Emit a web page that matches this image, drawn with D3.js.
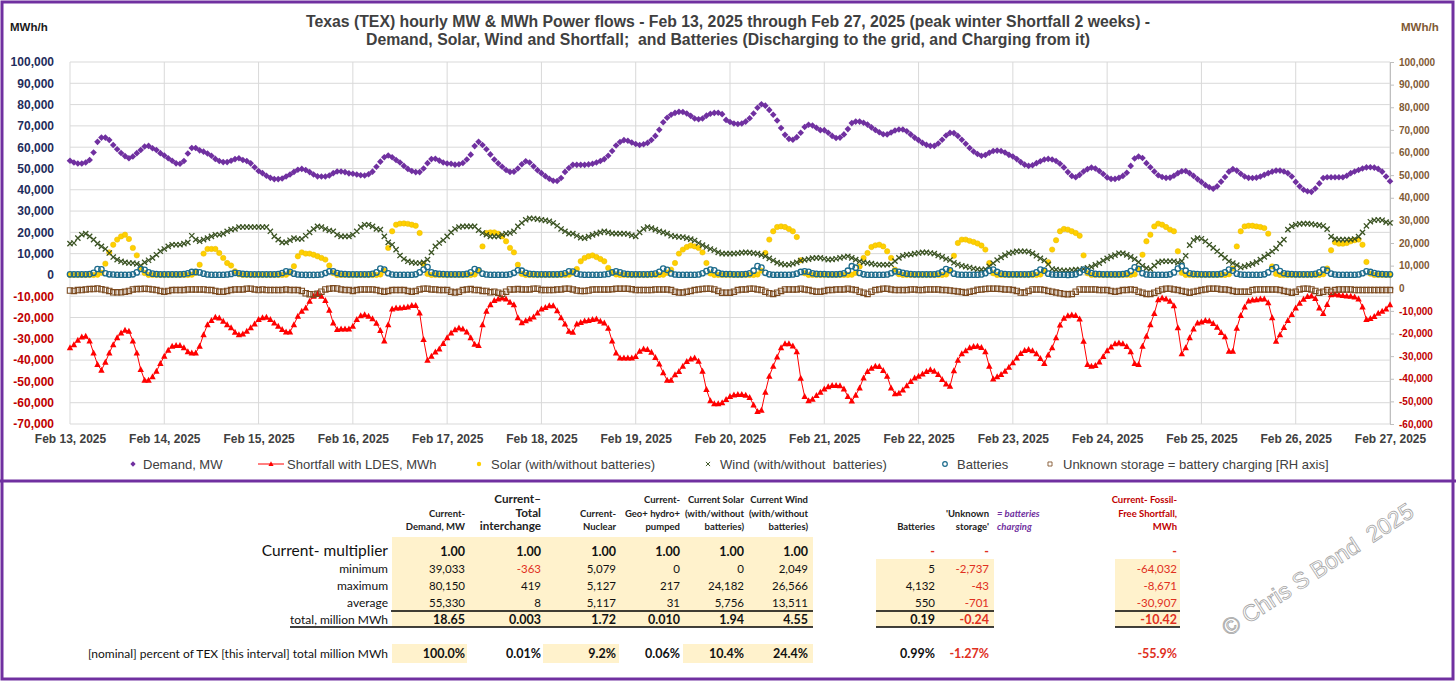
<!DOCTYPE html>
<html><head><meta charset="utf-8">
<script src="https://cdn.jsdelivr.net/npm/d3@7"></script>
<style>body{margin:0;background:#fff}svg{display:block}text{white-space:pre}</style>
</head><body>
<svg id="c" width="1456" height="683"></svg>
<script>
// ---------------- DATA ----------------
const dayLabels = ["Feb 13, 2025","Feb 14, 2025","Feb 15, 2025","Feb 16, 2025","Feb 17, 2025","Feb 18, 2025","Feb 19, 2025","Feb 20, 2025","Feb 21, 2025","Feb 22, 2025","Feb 23, 2025","Feb 24, 2025","Feb 25, 2025","Feb 26, 2025","Feb 27, 2025"];
const leftTicks = [100000,90000,80000,70000,60000,50000,40000,30000,20000,10000,0,-10000,-20000,-30000,-40000,-50000,-60000,-70000];
const rightTicks = [100000,90000,80000,70000,60000,50000,40000,30000,20000,10000,0,-10000,-20000,-30000,-40000,-50000,-60000];
// hourly values in thousand MW (GW), Feb 13 00:00 .. Feb 27 00:00
const demandGW = [
53.6,52.8,52.3,52.3,52.8,54.0,57.5,62.5,64.5,64.5,63.4,61.0,59.0,57.3,55.8,54.8,55.6,57.2,58.7,60.3,60.6,59.5,58.7,57.2,
56.1,54.8,53.6,52.4,52.2,53.5,57.0,59.6,59.6,58.5,57.9,57.0,56.0,54.5,53.5,53.0,53.0,53.6,54.4,54.8,54.0,53.5,52.4,50.6,
48.8,47.8,46.6,45.6,45.0,45.0,45.3,46.2,47.2,48.4,49.4,49.8,49.3,48.3,47.2,46.3,46.2,46.2,46.7,47.8,48.6,48.6,48.3,47.7,
47.5,47.2,46.8,46.7,47.3,48.5,50.8,53.2,55.3,56.1,55.3,54.0,52.8,51.2,49.8,48.8,48.3,48.3,50.0,52.5,54.4,54.6,53.7,52.8,
52.3,52.2,51.8,52.0,52.6,54.2,56.5,60.5,62.5,61.0,59.0,56.6,54.2,52.4,50.8,49.3,48.4,48.5,50.0,52.0,53.4,52.8,51.0,49.2,
47.8,46.4,45.2,44.2,44.1,45.5,48.4,50.2,51.7,51.7,51.7,51.7,51.9,52.2,52.8,53.5,54.4,56.0,58.2,60.8,62.4,63.3,63.0,62.2,
61.5,61.0,61.4,62.0,63.4,65.3,68.2,71.7,73.8,75.2,76.1,76.6,76.5,75.8,74.7,73.5,73.1,73.5,74.8,75.7,76.1,76.2,75.5,72.8,
71.8,71.1,70.9,71.1,72.0,73.6,75.8,78.5,80.15,79.5,77.5,75.2,72.5,69.0,65.8,63.9,63.5,64.7,66.8,69.5,70.5,70.2,69.1,68.0,
68.0,66.8,65.3,64.3,64.5,66.0,68.5,71.3,72.0,72.0,71.5,70.6,69.3,68.1,67.0,66.1,66.0,66.9,67.8,68.3,68.3,67.5,66.0,64.5,
63.3,62.0,61.1,60.6,60.6,61.7,63.5,65.5,66.7,66.6,65.3,63.5,61.6,59.6,58.0,56.8,56.0,56.3,57.4,58.2,58.4,58.2,57.5,56.4,
55.6,54.4,53.0,51.8,51.2,51.5,52.5,53.4,54.2,54.5,54.2,53.5,52.2,50.5,48.3,46.5,45.9,47.0,48.6,49.7,50.4,50.0,48.8,47.4,
45.8,45.1,45.1,45.6,46.5,48.0,51.2,54.7,55.6,54.9,52.5,50.6,48.6,46.8,46.0,45.6,45.7,46.6,47.8,48.7,48.8,47.8,46.5,45.0,
43.7,42.2,41.2,40.5,41.6,43.8,46.0,48.5,49.7,49.0,47.5,46.2,45.6,45.5,45.7,46.2,47.0,47.8,48.5,49.0,49.0,48.6,47.8,46.2,
43.7,41.6,40.0,39.3,39.03,40.6,43.0,45.5,45.9,45.9,45.9,45.9,45.9,46.6,47.8,48.6,49.3,50.0,50.5,50.6,50.4,49.8,48.5,46.2,
44.0];
const shortfallGW = [
-34.2,-32.7,-30.6,-29.1,-28.8,-31.0,-36.6,-42.0,-44.7,-41.0,-36.6,-32.7,-29.5,-27.2,-25.9,-26.4,-31.0,-36.6,-44.4,-49.4,-49.4,-47.8,-45.2,-41.6,
-38.1,-35.3,-33.4,-33.1,-33.1,-34.2,-36.0,-36.6,-36.6,-33.4,-28.0,-23.3,-21.4,-19.8,-20.2,-21.7,-23.3,-24.8,-26.9,-28.0,-27.7,-26.4,-24.8,-23.0,
-20.9,-20.0,-19.8,-20.9,-22.5,-24.1,-25.6,-26.7,-26.7,-23.3,-19.4,-17.0,-15.5,-12.3,-10.0,-8.671,-10.0,-12.0,-16.5,-22.5,-25.6,-25.3,-25.3,-25.3,
-24.1,-20.9,-19.1,-18.6,-19.3,-20.5,-22.6,-26.0,-31.0,-23.3,-16.0,-15.5,-15.5,-15.3,-15.0,-14.3,-14.3,-17.8,-30.3,-40.0,-38.1,-36.1,-34.7,-32.2,
-29.5,-27.2,-25.7,-24.9,-25.3,-26.8,-29.5,-32.5,-33.1,-23.3,-17.0,-13.9,-12.0,-11.2,-10.8,-11.3,-12.8,-13.9,-20.0,-22.4,-21.5,-20.7,-19.7,-17.8,
-16.0,-15.3,-14.4,-14.4,-16.8,-20.0,-23.0,-26.4,-26.9,-23.0,-22.3,-21.6,-21.3,-20.9,-20.6,-21.7,-22.5,-25.0,-31.0,-36.6,-38.9,-38.9,-38.9,-38.9,
-38.3,-35.8,-34.7,-35.0,-36.3,-38.7,-41.8,-45.9,-49.4,-49.4,-46.8,-45.3,-42.8,-40.6,-39.4,-38.9,-40.5,-45.2,-53.8,-59.0,-60.4,-60.5,-60.0,-58.4,
-57.0,-56.3,-56.1,-56.1,-56.4,-57.5,-61.0,-64.032,-63.5,-55.0,-47.5,-42.8,-38.5,-34.2,-32.3,-32.3,-33.3,-36.0,-48.5,-57.0,-59.0,-58.3,-56.6,-55.0,
-53.5,-52.5,-51.9,-51.9,-52.0,-53.5,-57.0,-59.2,-56.5,-53.0,-48.3,-45.3,-43.8,-42.8,-43.0,-44.8,-47.5,-53.0,-55.8,-55.5,-54.0,-52.0,-50.0,-48.3,
-47.5,-46.5,-45.3,-44.5,-45.2,-46.7,-49.0,-51.2,-52.2,-45.0,-40.0,-37.0,-35.6,-34.2,-33.6,-33.4,-34.0,-36.0,-42.8,-48.8,-47.8,-46.7,-45.2,-43.3,
-41.2,-38.9,-36.9,-35.4,-35.0,-35.6,-37.0,-39.2,-41.6,-37.5,-34.2,-29.5,-23.5,-20.3,-19.1,-18.8,-19.0,-20.6,-31.1,-42.0,-42.8,-42.5,-40.8,-38.3,
-35.5,-33.8,-32.3,-31.9,-32.3,-33.5,-36.0,-41.6,-42.0,-33.4,-28.8,-23.3,-18.1,-11.6,-10.8,-11.3,-12.3,-14.4,-24.8,-37.0,-34.2,-29.5,-25.3,-22.5,
-22.0,-21.3,-21.6,-22.8,-24.5,-27.0,-29.0,-35.8,-35.8,-25.0,-19.0,-15.0,-12.2,-11.7,-11.6,-11.2,-11.3,-13.0,-20.0,-31.1,-28.0,-24.6,-21.3,-18.5,
-15.5,-13.2,-11.4,-10.1,-9.9,-11.0,-15.5,-18.1,-13.8,-9.2,-9.0,-9.4,-9.6,-9.9,-10.0,-10.3,-11.2,-15.0,-20.9,-20.4,-19.5,-18.0,-17.0,-16.0,
-14.0];
const solarGW = [
0,0,0,0,0,0,0,0.1,1.0,5.3,10.6,14.2,16.6,18.1,18.9,16.9,12.7,9.2,3.3,0.9,0,0,0,0,
0,0,0,0,0,0,0,0.1,1.0,4.8,10.0,12.2,12.2,12.2,10.3,8.0,5.6,4.4,1.7,0.3,0,0,0,0,
0,0,0,0,0,0,0,0.1,1.0,4.1,8.75,10.6,10.0,10.0,9.5,8.75,8.0,7.2,4.4,0.9,0,0,0,0,
0,0,0,0,0,0,0,0.2,2.0,12.7,20.5,23.6,24.1,24.182,24.0,23.6,23.1,19.7,5.0,0.5,0,0,0,0,
0,0,0,0,0,0,0,0.2,2.0,13.4,19.7,20.0,20.0,19.4,18.1,15.8,12.7,10.6,4.8,0.5,0,0,0,0,
0,0,0,0,0,0,0,0.1,1.0,2.8,6.4,8.0,8.75,9.2,8.4,7.5,6.4,3.3,1.2,0.2,0,0,0,0,
0,0,0,0,0,0,0,0.1,1.0,2.5,5.6,10.0,11.9,13.1,13.8,13.4,12.7,10.6,5.6,0.7,0,0,0,0,
0,0,0,0,0,0,0,0.2,2.0,10.3,16.6,20.5,22.5,22.8,22.5,21.6,20.5,17.8,6.9,0.8,0,0,0,0,
0,0,0,0,0,0,0,0.1,1.0,4.0,8.0,10.3,13.1,13.9,14.2,13.4,11.1,8.0,2.5,0.3,0,0,0,0,
0,0,0,0,0,0,0,0.2,2.0,9.0,15.0,16.6,16.6,16.0,15.5,14.8,13.8,11.9,5.6,0.8,0,0,0,0,
0,0,0,0,0,0,0,0.2,2.0,6.0,11.9,16.3,20.5,21.6,21.3,20.5,19.7,18.4,9.2,0.8,0,0,0,0,
0,0,0,0,0,0,0,0.3,3.0,9.5,15.8,18.9,22.8,24.1,23.6,22.5,21.3,20.5,11.1,1.0,0,0,0,0,
0,0,0,0,0,0,0,0.3,3.0,13.4,20.5,22.8,23.1,23.1,22.8,22.5,22.0,19.4,4.0,0.5,0,0,0,0,
0,0,0,0,0,0,0,0.3,3.0,11.6,15.3,14.7,14.7,15.0,15.8,16.3,16.6,14.2,6.1,0.6,0,0,0,0,
0];
const windGW = [
14.7,15.0,17.3,18.9,19.4,18.1,16.6,14.7,13.4,12.2,10.3,8.4,7.2,6.4,5.9,5.6,5.6,5.2,4.4,5.9,6.9,8.0,9.5,11.1,
12.2,13.4,14.2,14.2,14.2,14.7,15.3,18.4,16.6,15.8,16.6,17.3,18.1,18.9,18.9,19.4,20.5,21.3,21.6,22.5,22.5,22.5,22.5,22.5,
22.5,22.5,22.5,20.5,18.1,16.6,15.3,15.3,16.3,17.3,16.9,16.9,18.4,20.0,21.6,22.8,22.5,21.6,20.9,20.5,18.9,18.1,18.1,18.1,
18.9,20.5,22.5,23.6,23.6,22.8,21.6,21.3,18.1,15.3,14.2,11.9,9.1,7.5,6.4,5.9,5.6,5.6,5.9,7.2,10.6,13.4,15.0,16.3,
18.1,20.0,21.6,22.5,22.8,22.8,22.8,22.8,21.0,19.7,18.9,18.1,18.1,18.1,18.9,19.4,19.7,20.5,22.8,24.4,25.9,26.566,26.5,26.2,
25.9,25.6,25.2,24.4,23.1,21.6,20.5,19.4,19.4,18.4,17.5,17.3,18.0,18.8,19.4,20.0,20.5,20.0,19.5,19.4,19.4,19.4,19.2,18.6,
18.1,20.0,21.6,22.5,22.0,21.3,20.5,20.0,19.4,18.4,18.1,17.8,17.8,17.3,16.8,16.2,15.0,14.0,13.1,12.2,11.6,10.6,10.0,10.0,
10.0,10.0,10.2,10.5,10.6,10.5,10.2,10.0,9.4,8.8,7.8,6.8,5.8,5.2,4.8,4.8,5.3,5.9,6.7,7.1,7.4,7.9,8.0,8.0,
7.6,7.2,7.3,7.6,8.0,8.4,8.75,8.0,7.2,6.4,5.9,5.6,5.3,4.9,4.8,4.8,4.8,5.0,6.5,8.0,9.0,9.5,9.6,10.0,
10.3,10.6,10.6,10.3,10.0,9.1,8.5,7.5,7.0,5.7,4.9,4.3,3.9,3.5,3.0,2.7,2.5,2.7,4.0,5.5,7.0,8.2,9.3,10.2,
10.6,11.1,11.1,11.1,10.9,10.1,9.0,7.8,6.8,5.0,2.8,2.5,2.2,2.049,2.1,2.3,2.5,2.5,2.8,3.3,3.8,4.7,5.5,6.7,
7.8,8.6,9.3,10.2,10.1,9.4,8.5,7.4,6.0,4.3,3.2,2.8,4.4,5.9,6.4,6.4,6.4,6.4,5.8,6.5,9.0,14.0,16.4,17.3,
17.0,15.8,14.2,12.7,11.1,9.5,8.0,6.4,5.6,4.6,3.5,4.0,4.6,5.2,6.0,7.2,8.5,9.7,11.0,12.5,14.7,16.6,21.3,22.8,
23.6,24.0,24.1,24.1,23.9,23.6,23.4,23.0,21.5,18.0,16.8,16.6,16.6,16.6,16.6,16.9,18.0,20.0,23.0,25.0,25.7,25.9,25.7,24.8,
24.4];
const batteriesGW = [
0.3,0.3,0.3,0.3,0.3,0.4,1.0,2.8,2.6,0.8,0.3,0.2,0.1,0.1,0.1,0.1,0.3,1.2,2.8,2.4,1.2,0.6,0.4,0.3,
0.3,0.3,0.3,0.3,0.3,0.4,0.8,1.4,1.4,1.2,0.6,0.2,0.1,0.1,0.1,0.1,0.2,0.5,1.0,0.8,0.5,0.4,0.3,0.3,
0.3,0.3,0.3,0.3,0.3,0.4,0.9,1.7,1.5,0.6,0.2,0.1,0.05,0.05,0.05,0.1,0.2,0.9,1.7,1.7,0.9,0.5,0.4,0.3,
0.3,0.3,0.3,0.3,0.3,0.5,1.2,3.0,2.5,0.8,0.2,0.1,0.1,0.1,0.1,0.1,0.3,1.2,2.5,3.7,1.2,0.7,0.5,0.4,
0.3,0.3,0.3,0.3,0.3,0.5,1.2,2.8,2.2,0.6,0.2,0.1,0.1,0.1,0.1,0.1,0.3,1.0,2.2,2.0,1.0,0.5,0.4,0.3,
0.3,0.3,0.3,0.3,0.3,0.4,0.8,1.7,1.6,0.6,0.2,0.1,0.1,0.1,0.1,0.1,0.2,0.5,1.2,1.7,1.2,0.6,0.4,0.3,
0.3,0.3,0.3,0.3,0.4,0.6,1.5,3.0,2.4,0.7,0.2,0.1,0.1,0.1,0.1,0.1,0.2,0.8,1.8,2.5,2.2,1.0,0.5,0.4,
0.4,0.3,0.3,0.3,0.4,0.8,2.0,4.132,3.5,1.0,0.3,0.1,0.1,0.1,0.1,0.1,0.2,0.6,1.4,1.7,1.5,0.8,0.5,0.4,
0.4,0.3,0.3,0.3,0.4,0.8,2.0,4.1,3.4,0.9,0.3,0.1,0.1,0.1,0.1,0.1,0.2,0.8,1.7,1.5,1.0,0.6,0.4,0.3,
0.3,0.3,0.3,0.3,0.3,0.6,1.4,2.8,2.2,0.6,0.2,0.1,0.1,0.1,0.1,0.1,0.2,0.8,2.0,2.5,1.4,0.6,0.4,0.3,
0.3,0.3,0.3,0.3,0.3,0.5,1.2,2.5,2.0,0.6,0.2,0.1,0.1,0.1,0.005,0.1,0.3,1.2,2.5,1.8,0.9,0.5,0.4,0.3,
0.3,0.3,0.3,0.3,0.4,0.7,1.8,3.6,2.8,0.8,0.2,0.1,0.1,0.1,0.1,0.1,0.3,1.2,3.0,4.1,2.0,0.8,0.5,0.4,
0.3,0.3,0.3,0.3,0.3,0.5,1.2,2.5,2.0,0.6,0.2,0.1,0.1,0.1,0.1,0.1,0.3,1.2,2.8,3.6,1.8,0.8,0.5,0.4,
0.3,0.3,0.3,0.3,0.3,0.5,1.2,2.5,2.0,0.6,0.2,0.1,0.1,0.1,0.1,0.1,0.2,0.8,1.7,1.4,0.9,0.5,0.4,0.3,
0.3];
const unknownStorageGW = [ // plotted on the right-hand axis
-1.0,-1.2,-0.8,-0.8,-0.5,-0.35,-0.35,-0.1,-0.45,-0.77,-1.2,-1.8,-1.8,-1.8,-1.5,-1.2,-0.5,-0.35,-0.35,-0.2,-0.35,-0.5,-0.8,-1.2,
-1.5,-1.2,-0.8,-0.8,-0.8,-0.8,-0.5,-0.5,-0.5,-0.5,-0.5,-0.8,-0.8,-1.2,-1.5,-1.5,-1.2,-0.8,-0.5,-0.5,-0.5,-0.2,-0.2,-0.5,
-0.8,-0.5,-0.8,-0.8,-0.8,-0.8,-0.8,-0.5,-0.8,-0.8,-0.8,-1.2,-2.2,-2.6,-2.737,-2.4,-1.5,-0.5,-0.2,-0.043,-0.1,-0.5,-0.8,-0.8,
-1.2,-0.8,-0.5,-0.5,-0.5,-0.5,-0.8,-1.2,-1.5,-1.2,-0.8,-0.8,-0.8,-0.8,-1.2,-1.5,-1.2,-0.5,-0.2,-0.2,-0.5,-0.5,-0.8,-0.8,
-0.8,-1.5,-1.9,-1.5,-0.8,-0.5,-0.35,-0.8,-0.8,-1.2,-1.2,-1.8,-1.5,-1.95,-2.5,-1.5,-0.5,-0.5,-0.35,-0.5,-0.5,-0.5,-0.2,-0.2,
-0.8,-0.8,-0.8,-0.8,-0.5,-0.5,-0.2,-0.2,-0.5,-1.0,-1.2,-1.2,-1.0,-0.6,-0.5,-0.5,-0.5,-0.5,-0.4,-0.2,-0.2,-0.2,-0.2,-0.4,
-0.8,-0.8,-0.8,-0.8,-0.8,-0.5,-0.5,-0.5,-0.5,-0.8,-1.5,-1.9,-1.9,-1.5,-1.2,-0.8,-0.5,-0.3,-0.2,-0.2,-0.5,-1.2,-1.95,-1.95,
-1.95,-1.5,-0.8,-0.5,-0.5,-0.2,-0.2,-0.5,-0.8,-1.5,-2.2,-2.5,-1.95,-1.2,-0.5,-0.5,-0.5,-0.5,-0.2,-0.5,-0.8,-1.2,-1.5,-1.5,
-1.2,-0.8,-0.8,-0.5,-0.5,-0.5,-0.2,-0.5,-0.8,-1.5,-1.95,-2.5,-1.5,-0.8,-0.5,-0.2,-0.2,-0.5,-0.8,-0.8,-0.8,-0.8,-0.5,-0.5,
-0.8,-0.8,-0.5,-0.5,-0.5,-0.5,-0.8,-0.8,-1.0,-1.2,-1.4,-1.7,-1.95,-1.5,-1.2,-0.7,-0.5,-0.3,-0.2,-0.2,-0.2,-0.3,-0.5,-0.5,
-0.8,-1.2,-1.9,-1.9,-1.2,-0.5,-0.5,-0.5,-0.8,-1.2,-1.5,-1.9,-2.2,-2.5,-2.7,-2.5,-1.5,-0.5,-0.5,-0.5,-0.5,-0.5,-0.8,-0.8,
-0.8,-1.2,-1.5,-1.2,-0.8,-0.8,-0.5,-0.8,-1.5,-1.95,-2.5,-2.5,-1.95,-1.2,-0.5,-0.2,-0.2,-0.5,-0.8,-1.2,-1.5,-1.95,-1.5,-1.2,
-0.8,-0.5,-0.2,-0.2,-0.2,-0.5,-0.5,-0.8,-1.2,-1.5,-1.5,-1.5,-1.5,-0.8,-0.5,-0.5,-0.5,-0.5,-0.5,-0.5,-0.8,-1.2,-1.5,-1.95,
-1.5,-0.5,-0.2,-0.2,-0.5,-1.2,-1.95,-1.5,-0.8,-1.5,-0.8,-0.5,-0.5,-0.5,-0.5,-0.8,-0.8,-0.8,-0.8,-0.8,-0.8,-0.8,-0.8,-0.8,
-0.8];
const legendLabels = ["Demand, MW","Shortfall with LDES, MWh","Solar (with/without batteries)","Wind (with/without  batteries)","Batteries","Unknown storage = battery charging [RH axis]"];
// table
const tableHeaders = [["","Current-","Demand, MW"],["Current–","Total","interchange"],["","Current-","Nuclear"],["Current-","Geo+ hydro+","pumped"],["Current Solar","(with/without","batteries)"],["Current Wind","(with/without","batteries)"],["","","Batteries"],["","'Unknown","storage'"],["Current- Fossil-","Free Shortfall,","MWh"]];
const rowLabels = ["Current- multiplier","minimum","maximum","average","total, million MWh"];
const multiplierRow = ["1.00","1.00","1.00","1.00","1.00","1.00","-","-","-"];
const minRow = ["39,033","-363","5,079","0","0","2,049","5","-2,737","-64,032"];
const maxRow = ["80,150","419","5,127","217","24,182","26,566","4,132","-43","-8,671"];
const avgRow = ["55,330","8","5,117","31","5,756","13,511","550","-701","-30,907"];
const totalRow = ["18.65","0.003","1.72","0.010","1.94","4.55","0.19","-0.24","-10.42"];
const pctLabel = "[nominal] percent of TEX [this interval] total million MWh";
const pctRow = ["100.0%","0.01%","9.2%","0.06%","10.4%","24.4%","0.99%","-1.27%","-55.9%"];

// ---------------- DRAW ----------------
const svg = d3.select("#c");
svg.append("rect").attr("width",1456).attr("height",683).attr("fill","#fff");
const SANS = "'Liberation Sans', Arial, sans-serif";
const TBL = "Lato, 'Open Sans', sans-serif";

const x = d3.scaleLinear().domain([0, 336]).range([70, 1390]);
const yL = d3.scaleLinear().domain([-70000, 100000]).range([424, 62]);
const yR = d3.scaleLinear().domain([-60000, 100000]).range([424, 62]);
const fmt = v => (v < 0 ? "-" : "") + d3.format(",")(Math.abs(v));
const dayIdx = dayLabels.map((d, i) => i * 24);

// gridlines
const grid = svg.append("g");
grid.selectAll("line.h").data(leftTicks).join("line")
  .attr("x1", 70).attr("x2", 1390).attr("y1", d => yL(d)).attr("y2", d => yL(d))
  .attr("stroke", "#d9d9d9").attr("stroke-width", 1);
grid.selectAll("line.v").data(dayIdx).join("line")
  .attr("x1", d => x(d)).attr("x2", d => x(d)).attr("y1", 62).attr("y2", 424)
  .attr("stroke", "#d9d9d9").attr("stroke-width", 1);

// axes
const gL = svg.append("g").attr("transform", "translate(70,0)")
  .call(d3.axisLeft(yL).tickValues(leftTicks).tickFormat(fmt).tickSize(0).tickPadding(16));
gL.select(".domain").remove();
gL.selectAll("text").attr("font-family", SANS).attr("font-size", 12).attr("font-weight", 700)
  .attr("fill", d => d < 0 ? "#c00000" : "#1f2d5c");

const gR = svg.append("g").attr("transform", "translate(1390,0)")
  .call(d3.axisRight(yR).tickValues(rightTicks).tickFormat(fmt).tickSize(4).tickPadding(5));
gR.select(".domain").attr("stroke", "#bfbfbf");
gR.selectAll(".tick line").attr("stroke", "#bfbfbf");
gR.selectAll("text").attr("font-family", SANS).attr("font-size", 10).attr("font-weight", 700)
  .attr("fill", d => d < 0 ? "#c00000" : "#7f5a35");

const gB = svg.append("g").attr("transform", "translate(0,424)")
  .call(d3.axisBottom(x).tickValues(dayIdx).tickFormat((d, i) => dayLabels[i]).tickSize(0).tickPadding(10.5));
gB.select(".domain").remove();
gB.selectAll("text").attr("font-family", SANS).attr("font-size", 12).attr("font-weight", 700).attr("fill", "#404040");

// titles
const title = svg.append("g").attr("font-family", SANS).attr("font-weight", 700).attr("fill", "#404040").attr("text-anchor", "middle");
title.append("text").attr("x", 728).attr("y", 26.5).attr("font-size", 15.8)
  .text("Texas (TEX) hourly MW & MWh Power flows - Feb 13, 2025 through Feb 27, 2025 (peak winter Shortfall 2 weeks) -");
title.append("text").attr("x", 728).attr("y", 44.5).attr("font-size", 15.8)
  .text("Demand, Solar, Wind and Shortfall;  and Batteries (Discharging to the grid, and Charging from it)");
svg.append("text").attr("x", 10).attr("y", 31).attr("font-family", SANS).attr("font-size", 11.5).attr("font-weight", 700).attr("fill", "#1a1a1a").text("MWh/h");
svg.append("text").attr("x", 1401).attr("y", 31).attr("font-family", SANS).attr("font-size", 11.5).attr("font-weight", 700).attr("fill", "#7f5a35").text("MWh/h");

// marker shapes
const diamond = "M0,-3.3L3.3,0L0,3.3L-3.3,0Z";
const tri = "M0,-3.4L3.2,2.6L-3.2,2.6Z";
const cross = "M-2.6,-2.6L2.6,2.6M-2.6,2.6L2.6,-2.6";
const square = "M-2.7,-2.7H2.7V2.7H-2.7Z";
const C = {demand:"#7030a0", short:"#ff0000", solar:"#ffd000", wind:"#3b5323", batt:"#1c6b8c", unk:"#7b4a1f"};

const plot = svg.append("g");
const idx = d3.range(demandGW.length);
plot.append("g").selectAll("path").data(idx).join("path")
  .attr("d", diamond).attr("transform", i => `translate(${x(i)},${yL(demandGW[i]*1000)})`).attr("fill", C.demand);
plot.append("path").datum(idx).attr("fill", "none").attr("stroke", C.short).attr("stroke-width", 1)
  .attr("d", d3.line().x(i => x(i)).y(i => yL(shortfallGW[i]*1000)));
plot.append("g").selectAll("path").data(idx).join("path")
  .attr("d", tri).attr("transform", i => `translate(${x(i)},${yL(shortfallGW[i]*1000)})`).attr("fill", C.short);
plot.append("g").selectAll("circle").data(idx).join("circle")
  .attr("cx", i => x(i)).attr("cy", i => yL(solarGW[i]*1000)).attr("r", 2.7).attr("fill", C.solar).attr("stroke", "#e8b800").attr("stroke-width", 0.5);
plot.append("g").selectAll("path").data(idx).join("path")
  .attr("d", cross).attr("transform", i => `translate(${x(i)},${yL(windGW[i]*1000)})`).attr("stroke", C.wind).attr("stroke-width", 1.3).attr("fill", "none");
plot.append("g").selectAll("circle").data(idx).join("circle")
  .attr("cx", i => x(i)).attr("cy", i => yL(batteriesGW[i]*1000)).attr("r", 2.7).attr("fill", "none").attr("stroke", C.batt).attr("stroke-width", 1.3);
plot.append("g").selectAll("path").data(idx).join("path")
  .attr("d", square).attr("transform", i => `translate(${x(i)},${yR(unknownStorageGW[i]*1000)})`).attr("stroke", C.unk).attr("stroke-width", 1.1).attr("fill", "none");

// legend
const legX = [133, 271, 479, 708, 945, 1050];
const lg = svg.append("g").attr("font-family", SANS).attr("font-size", 13).attr("fill", "#404040");
const legY = 464;
lg.append("path").attr("d", diamond).attr("transform", `translate(${legX[0]},${legY}) scale(0.8)`).attr("fill", C.demand);
lg.append("line").attr("x1", legX[1]-13).attr("x2", legX[1]+13).attr("y1", legY).attr("y2", legY).attr("stroke", C.short);
lg.append("path").attr("d", tri).attr("transform", `translate(${legX[1]},${legY}) scale(0.8)`).attr("fill", C.short);
lg.append("circle").attr("cx", legX[2]).attr("cy", legY).attr("r", 2.2).attr("fill", C.solar);
lg.append("path").attr("d", cross).attr("transform", `translate(${legX[3]},${legY}) scale(0.8)`).attr("stroke", C.wind).attr("stroke-width", 1.2);
lg.append("circle").attr("cx", legX[4]).attr("cy", legY).attr("r", 2.3).attr("fill", "none").attr("stroke", C.batt).attr("stroke-width", 1.2);
lg.append("path").attr("d", square).attr("transform", `translate(${legX[5]},${legY}) scale(0.75)`).attr("fill", "none").attr("stroke", C.unk).attr("stroke-width", 1.1);
const legOff = [10, 16, 12, 12, 12, 13];
lg.selectAll("text").data(legendLabels).join("text")
  .attr("x", (d, i) => legX[i] + legOff[i]).attr("y", legY + 4.5).text(d => d);

// borders
svg.append("rect").attr("x", 2).attr("y", 2).attr("width", 1451).attr("height", 677).attr("fill", "none").attr("stroke", "#7030a0").attr("stroke-width", 3);
svg.append("line").attr("x1", 0).attr("x2", 1456).attr("y1", 481).attr("y2", 481).attr("stroke", "#7030a0").attr("stroke-width", 3);

// ---------------- TABLE ----------------
const colR = [465, 541, 616, 680, 744, 808, 935, 989, 1177];
const tb = svg.append("g").attr("font-family", TBL);
const shade = "#fff2cc";
[[392, 537, 421, 90], [876, 559, 118, 68], [1115, 559, 65, 68], [392, 644, 75, 19], [543, 644, 76, 19], [683, 644, 130, 19]]
  .forEach(r => tb.append("rect").attr("x", r[0]).attr("y", r[1]).attr("width", r[2]).attr("height", r[3]).attr("fill", shade));
[[391, 813, 611], [876, 994, 611], [1115, 1180, 611], [290, 813, 627], [876, 994, 627], [1115, 1180, 627]]
  .forEach(l => tb.append("line").attr("x1", l[0]).attr("x2", l[1]).attr("y1", l[2]).attr("y2", l[2]).attr("stroke", "#000").attr("stroke-width", 1.4));
const hdrY = [503, 516.5, 530];
tableHeaders.forEach((h, c) => {
  h.forEach((t, k) => {
    if (!t) return;
    tb.append("text").attr("x", colR[c]).attr("y", hdrY[k]).attr("text-anchor", "end")
      .attr("font-size", c === 1 ? 11.7 : 9.5).attr("font-weight", 700)
      .attr("fill", c === 8 ? "#c00000" : "#222").text(t);
  });
});
tb.append("text").attr("x", 997).attr("y", hdrY[1]).attr("font-size", 9.5).attr("font-weight", 700).attr("font-style", "italic").attr("fill", "#7030a0").text("= batteries");
tb.append("text").attr("x", 997).attr("y", hdrY[2]).attr("font-size", 9.5).attr("font-weight", 700).attr("font-style", "italic").attr("fill", "#7030a0").text("charging");

const rowsY = [556, 572.5, 590, 607, 624];
const rows = [multiplierRow, minRow, maxRow, avgRow, totalRow];
rowLabels.forEach((t, r) => {
  tb.append("text").attr("x", 388).attr("y", rowsY[r]).attr("text-anchor", "end")
    .attr("font-size", r === 0 ? 15.5 : 12).attr("fill", "#111").text(t);
});
rows.forEach((row, r) => {
  row.forEach((v, c) => {
    const neg = v.startsWith("-");
    tb.append("text").attr("x", colR[c]).attr("y", rowsY[r]).attr("text-anchor", "end")
      .attr("font-size", (r === 0 || r === 4) ? 12.5 : 11.5).attr("font-weight", (r === 0 || r === 4) ? 700 : 400)
      .attr("fill", neg ? "#e0301e" : "#111").text(v);
  });
});
tb.append("text").attr("x", 388).attr("y", 658).attr("text-anchor", "end").attr("font-size", 12).attr("fill", "#111").text(pctLabel);
pctRow.forEach((v, c) => {
  tb.append("text").attr("x", colR[c]).attr("y", 658).attr("text-anchor", "end").attr("font-size", 12.5).attr("font-weight", 700)
    .attr("fill", v.startsWith("-") ? "#e0301e" : "#111").text(v);
});
// watermark
svg.append("text").attr("transform", "translate(1322,576) rotate(-33)").attr("text-anchor", "middle")
  .attr("font-family", SANS).attr("font-size", 23).attr("fill", "none").attr("stroke", "#a6a6a6").attr("stroke-width", 0.8)
  .text("© Chris S Bond  2025");
</script>
</body></html>
